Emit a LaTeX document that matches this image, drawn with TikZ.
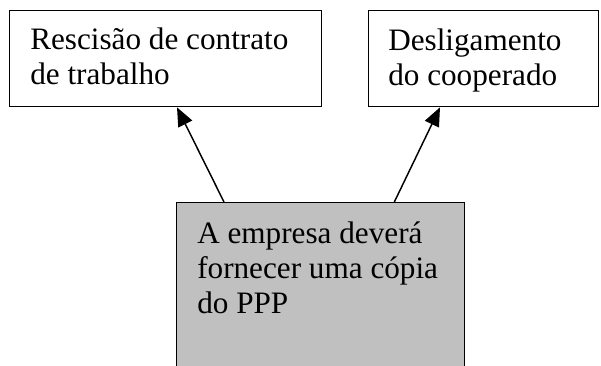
\documentclass[tikz,border=0pt]{standalone}
\usepackage{fontspec}
\setmainfont{Liberation Serif}
\usetikzlibrary{arrows.meta,calc}
\definecolor{boxgray}{HTML}{C0C0C0}
\begin{document}
\begin{tikzpicture}[x=0.75pt,y=-0.75pt,
  box/.style={draw=black,line width=1pt,anchor=north west,inner sep=0pt},
  label/.style={anchor=base west,align=left,inner sep=0pt,font=\fontsize{23.4}{26.5}\selectfont},
  arr/.style={line width=1.1pt,-{Triangle[length=14pt,width=11.5pt]}}]
\useasboundingbox (0,0) rectangle (601,366);
\clip (0,0) rectangle (601,366);
\fill[white] (0,0) rectangle (601,366);
\node[box,minimum width=312*0.75pt,minimum height=96*0.75pt] (left) at (9,10) {};
\node[box,minimum width=230*0.75pt,minimum height=96*0.75pt] (right) at (368,10) {};
\node[box,fill=boxgray,minimum width=288*0.75pt,minimum height=190*0.75pt] (bot) at (176,202) {};
\node[label] (lefttext) at (30,85) {Rescisão de contrato\\de trabalho};
\node[label] (righttext) at (388,86) {Desligamento\\do cooperado};
\node[label] (bottext) at (197,314) {A empresa deverá\\fornecer uma cópia\\do PPP};
\draw[arr] ($(bot.north west)+(48,0)$) -- ($(left.south west)+(168,0)$);
\draw[arr] ($(bot.north east)+(-71,0)$) -- ($(right.south west)+(72,0)$);
\end{tikzpicture}
\end{document}
